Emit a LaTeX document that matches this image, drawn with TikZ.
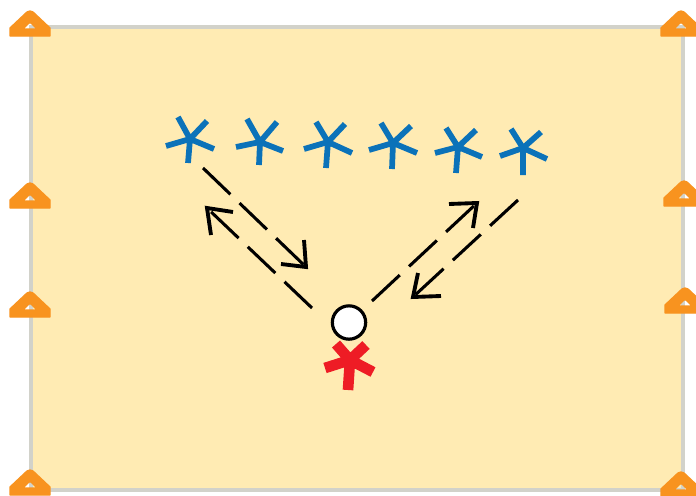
\documentclass[tikz,border=0pt]{standalone}
\definecolor{pitch}{HTML}{FFEBB3}
\definecolor{pitchline}{HTML}{D2D2CA}
\definecolor{conecol}{HTML}{F8931F}
\definecolor{bluep}{HTML}{0B72B9}
\definecolor{redp}{HTML}{EE1C25}
\tikzset{
  conestyle/.style={fill=conecol,draw=conecol,line width=1pt,line join=round,even odd rule},
  bluestar/.style={draw=bluep,line width=4.3pt},
  redstar/.style={draw=redp,line width=8pt},
  run/.style={draw=black,line width=2.3pt,dash pattern=on 28.5pt off 9.5pt},
  runhead/.style={draw=black,line width=2.9pt,line join=miter},
  ballstyle/.style={circle,draw=black,fill=white,line width=2.4pt,minimum size=25pt,inner sep=0pt}
}
\newcommand{\conemark}[2]{%
  \path[conestyle,shift={(#1,#2)}]
    (-20,25) -- (-20,17) -- (-3,1) -- (0,0) -- (3,1) -- (20,17) -- (20,25) -- cycle
    (-7,18) -- (-1,12) -- (1,12) -- (7,18) -- cycle;}
\newcommand{\playerstar}[7]{%
  \draw[#1] (#2) -- (#3) (#2) -- (#4) (#2) -- (#5) (#2) -- (#6) (#2) -- (#7);}
\begin{document}
\begin{tikzpicture}[x=0.75pt,y=-0.75pt]
\useasboundingbox (0,0) rectangle (696,496);
\fill[white] (0,0) rectangle (696,496);
\path[fill=pitch,draw=pitchline,line width=2.4pt] (31,27) rectangle (683,490);

\conemark{30}{11}\conemark{30}{183}\conemark{30}{292}\conemark{30}{470}
\conemark{681}{11}\conemark{684}{181}\conemark{685}{288}\conemark{681}{472}

\playerstar{bluestar}{190,139}{178,117}{207,121}{214,149}{188,163}{166,146}
\playerstar{bluestar}{260,142}{247,119}{277,122}{283,151}{259,165}{236,147}
\playerstar{bluestar}{328,142}{316,122}{345,124}{352,153}{326,168}{304,149}
\playerstar{bluestar}{393,143}{381,123}{411,126}{417,153}{392,169}{369,150}
\playerstar{bluestar}{458,147}{446,128}{476,130}{482,157}{456,173}{435,153}
\playerstar{bluestar}{523,148}{511,129}{541,132}{547,159}{523,175}{500,156}
\playerstar{redstar}{350,360}{336,344}{366,345}{373,372}{348,390}{325,368}

\node[ballstyle] (ball) at (349,322.5) {};

\coordinate (s1) at (203,168);
\coordinate (t1) at (306,267);
\coordinate (s2) at (312,308);
\coordinate (t2) at (207,208);
\coordinate (s3) at (372,301);
\coordinate (t3) at (477,203);
\coordinate (s4) at (518,200);
\coordinate (t4) at (413,297);
\coordinate (h1a) at (304,240);
\coordinate (h1b) at (281,264);
\coordinate (h2a) at (233,212);
\coordinate (h2b) at (211,235);
\coordinate (h3a) at (449,204);
\coordinate (h3b) at (473,228);
\coordinate (h4a) at (418,273);
\coordinate (h4b) at (441,296);
\draw[run] (s1) -- (t1);
\draw[run] (s2) -- (t2);
\draw[run] (s3) -- (t3);
\draw[run] (s4) -- (t4);
\draw[runhead] (h1a) -- (t1) -- (h1b);
\draw[runhead] (h2a) -- (t2) -- (h2b);
\draw[runhead] (h3a) -- (t3) -- (h3b);
\draw[runhead] (h4a) -- (t4) -- (h4b);
\end{tikzpicture}
\end{document}
